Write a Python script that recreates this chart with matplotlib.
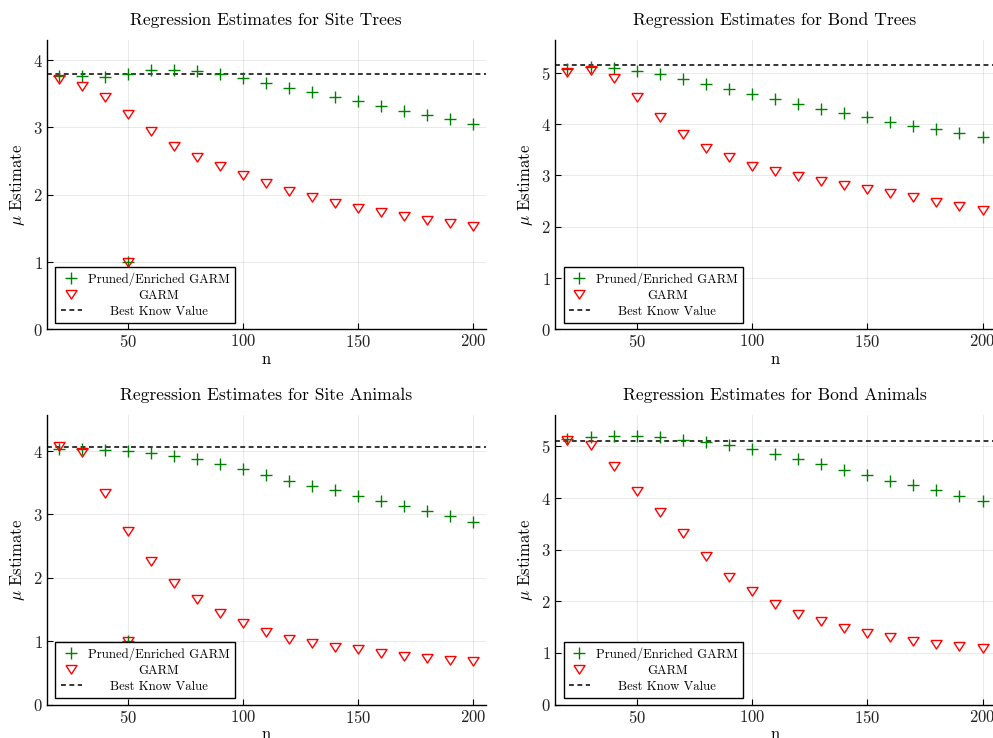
import matplotlib
matplotlib.use("Agg")
import matplotlib.pyplot as plt
from matplotlib.transforms import Bbox
import numpy as np

plt.rcParams['font.family'] = ['cmr10', 'DejaVu Serif']
plt.rcParams['mathtext.fontset'] = 'cm'
plt.rcParams['axes.formatter.use_mathtext'] = True

# ---------------- data ----------------
n_values = [20, 30, 40, 50, 60, 70, 80, 90, 100, 110, 120, 130, 140, 150, 160, 170, 180, 190, 200]

site_trees_pruned = [3.77, 3.77, 3.75, 3.80, 3.85, 3.86, 3.84, 3.80, 3.73, 3.66, 3.59, 3.53, 3.46, 3.39, 3.32, 3.25, 3.19, 3.12, 3.05]
site_trees_garm = [3.72, 3.61, 3.45, 3.20, 2.94, 2.73, 2.56, 2.42, 2.29, 2.17, 2.06, 1.96, 1.88, 1.80, 1.74, 1.68, 1.62, 1.58, 1.54]
site_trees_best = 3.80

bond_trees_pruned = [5.08, 5.12, 5.09, 5.04, 4.97, 4.88, 4.79, 4.69, 4.59, 4.49, 4.39, 4.30, 4.21, 4.13, 4.05, 3.97, 3.90, 3.82, 3.75]
bond_trees_garm = [5.02, 5.05, 4.90, 4.53, 4.13, 3.80, 3.54, 3.35, 3.19, 3.08, 2.99, 2.90, 2.82, 2.74, 2.66, 2.57, 2.49, 2.41, 2.33]
bond_trees_best = 5.15

site_animals_pruned = [4.04, 4.04, 4.01, 4.00, 3.97, 3.93, 3.87, 3.80, 3.71, 3.63, 3.53, 3.45, 3.38, 3.29, 3.21, 3.13, 3.06, 2.97, 2.88]
site_animals_garm = [4.08, 3.98, 3.34, 2.74, 2.26, 1.92, 1.67, 1.45, 1.28, 1.14, 1.04, 0.97, 0.91, 0.87, 0.81, 0.77, 0.74, 0.71, 0.68]
site_animals_best = 4.06

bond_animals_pruned = [5.15, 5.18, 5.21, 5.21, 5.18, 5.12, 5.08, 5.03, 4.95, 4.86, 4.76, 4.66, 4.55, 4.45, 4.34, 4.25, 4.15, 4.05, 3.95]
bond_animals_garm = [5.13, 5.03, 4.62, 4.14, 3.73, 3.32, 2.87, 2.48, 2.19, 1.95, 1.76, 1.61, 1.49, 1.39, 1.30, 1.24, 1.18, 1.13, 1.10]
bond_animals_best = 5.10

# extra point present in the "Site" runs
site_extra_n = [50]
site_extra_value = [1.0]

titles = ["Regression Estimates for Site Trees", "Regression Estimates for Bond Trees",
          "Regression Estimates for Site Animals", "Regression Estimates for Bond Animals"]
legend_labels = ["Pruned/Enriched GARM", "GARM", "Best Know Value"]
x_ticks = [50, 100, 150, 200]

panels = [
    dict(title=titles[0], pruned=site_trees_pruned, garm=site_trees_garm, best=site_trees_best,
         extra=True, ytop=4.30, yticks=[0, 1, 2, 3, 4]),
    dict(title=titles[1], pruned=bond_trees_pruned, garm=bond_trees_garm, best=bond_trees_best,
         extra=False, ytop=5.64, yticks=[0, 1, 2, 3, 4, 5]),
    dict(title=titles[2], pruned=site_animals_pruned, garm=site_animals_garm, best=site_animals_best,
         extra=True, ytop=4.57, yticks=[0, 1, 2, 3, 4]),
    dict(title=titles[3], pruned=bond_animals_pruned, garm=bond_animals_garm, best=bond_animals_best,
         extra=False, ytop=5.61, yticks=[0, 1, 2, 3, 4, 5]),
]

# ---------------- figure ----------------
W, H = 993, 738
fig = plt.figure(figsize=(W / 100, H / 100), dpi=100)

# axes rectangles in pixels: (left, top, right, bottom)
rects_px = [(46.7, 40, 485.7, 329.3), (555, 40, 995, 329.3),
            (46.7, 415, 485.7, 704.5), (555, 415, 995, 704.5)]

tri = [(-1.0, 0.72), (1.0, 0.72), (0.0, -0.82), (-1.0, 0.72)]

def center_legend_texts(leg):
    areas = []
    for col in leg._legend_handle_box.get_children():
        for item in col.get_children():
            ch = item.get_children()
            areas.append(ch[1])
    for a in areas:
        a._text.set_horizontalalignment('center')
    def make(orig):
        def gb(renderer):
            b = orig(renderer)
            ws = [o(renderer).width for o in origs]
            Wm = max(ws)
            return Bbox.from_bounds(-Wm / 2, b.y0, Wm, b.height)
        return gb
    origs = [a.get_bbox for a in areas]
    for a, o in zip(areas, origs):
        a.get_bbox = make(o)

for p, (l, t, r, b) in zip(panels, rects_px):
    ax = fig.add_axes([l / W, 1 - b / H, (r - l) / W, (b - t) / H])
    xs = list(n_values)
    yp = list(p['pruned'])
    yg = list(p['garm'])
    if p['extra']:
        xs_p = xs + site_extra_n
        yp = yp + site_extra_value
        yg = yg + site_extra_value
    else:
        xs_p = xs
    ax.plot(xs_p, yp, linestyle='none', marker='+', color='#008000', markersize=9,
            markeredgewidth=1.0, label=legend_labels[0], zorder=3)
    ax.plot(xs_p, yg, linestyle='none', marker=tri, color='red', markerfacecolor='none',
            markersize=8, markeredgewidth=1.0, label=legend_labels[1], zorder=3)
    ax.axhline(p['best'], color='black', linestyle=(0, (3.2, 2.3)), linewidth=1.1,
               label=legend_labels[2], zorder=2)

    ax.set_xlim(14.6, 205.4)
    ax.set_ylim(0, p['ytop'])
    ax.set_xticks(x_ticks)
    ax.set_yticks(p['yticks'])
    ax.grid(True, color='black', alpha=0.1, linewidth=0.6)
    ax.set_axisbelow(True)
    for s in ['top', 'right']:
        ax.spines[s].set_visible(False)
    for s in ['left', 'bottom']:
        ax.spines[s].set_linewidth(1.0)
        ax.spines[s].set_color('black')
    ax.tick_params(direction='in', length=4, width=0.8, labelsize=12, colors='black', pad=3)
    for lab in ax.get_xticklabels() + ax.get_yticklabels():
        lab.set_color('#222222')
    ax.set_title(p['title'], fontsize=12.6, pad=11)
    ax.set_xlabel('n', fontsize=12, labelpad=1)
    ax.set_ylabel(r'$\mu$ Estimate', fontsize=12, labelpad=4)

    leg = ax.legend(loc='lower left', bbox_to_anchor=(0.02, 0.023), fontsize=9.2,
                    frameon=True, fancybox=False, edgecolor='black', framealpha=1,
                    borderpad=0.4, labelspacing=0.3, handlelength=1.65, handletextpad=0.5,
                    borderaxespad=0.0)
    leg.get_frame().set_linewidth(1.0)
    try:
        center_legend_texts(leg)
    except Exception:
        pass

fig.savefig('out.png', dpi=100)
